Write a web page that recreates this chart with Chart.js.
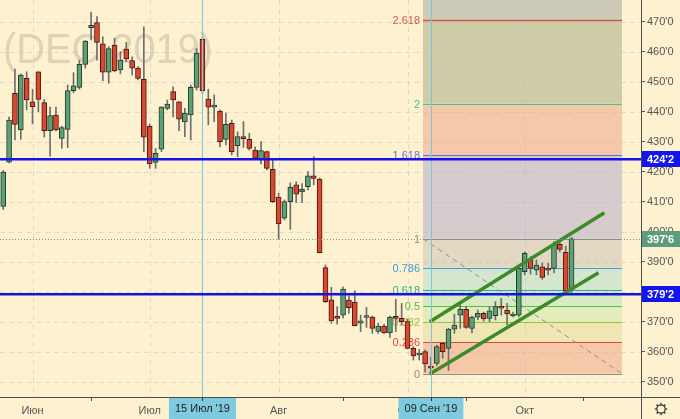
<!DOCTYPE html>
<html><head><meta charset="utf-8">
<script src="https://cdn.jsdelivr.net/npm/chart.js@4/dist/chart.umd.min.js"></script>
<style>
html,body{margin:0;padding:0;background:#fdf1cf;}
#wrap{width:680px;height:419px;position:relative;}
canvas{display:block;}
</style>
</head><body>
<div id="wrap"><canvas id="c"></canvas></div>
<script>
// ---- data ----
const dates = [
 '2019-05-24','2019-05-28','2019-05-29','2019-05-30','2019-05-31',
 '2019-06-03','2019-06-04','2019-06-05','2019-06-06','2019-06-07','2019-06-10','2019-06-11','2019-06-12','2019-06-13','2019-06-14',
 '2019-06-17','2019-06-18','2019-06-19','2019-06-20','2019-06-21','2019-06-24','2019-06-25','2019-06-26','2019-06-27','2019-06-28',
 '2019-07-01','2019-07-02','2019-07-03','2019-07-05','2019-07-08','2019-07-09','2019-07-10','2019-07-11','2019-07-12','2019-07-15',
 '2019-07-16','2019-07-17','2019-07-18','2019-07-19','2019-07-22','2019-07-23','2019-07-24','2019-07-25','2019-07-26','2019-07-29',
 '2019-07-30','2019-07-31',
 '2019-08-01','2019-08-02','2019-08-05','2019-08-06','2019-08-07','2019-08-08','2019-08-09','2019-08-12','2019-08-13','2019-08-14',
 '2019-08-15','2019-08-16','2019-08-19','2019-08-20','2019-08-21','2019-08-22','2019-08-23','2019-08-26','2019-08-27','2019-08-28',
 '2019-08-29','2019-08-30',
 '2019-09-03','2019-09-04','2019-09-05','2019-09-06','2019-09-09','2019-09-10','2019-09-11','2019-09-12','2019-09-13','2019-09-16',
 '2019-09-17','2019-09-18','2019-09-19','2019-09-20','2019-09-23','2019-09-24','2019-09-25','2019-09-26','2019-09-27','2019-09-30',
 '2019-10-01','2019-10-02','2019-10-03','2019-10-04','2019-10-07','2019-10-08','2019-10-09','2019-10-10','2019-10-11'
];
const opens = [408.5,423.3,446.2,434.0,451.2, 443.4,453.4,443.1,433.8,439.0, 431.2,434.2,447.1,448.2,455.9,
 468.1,469.8,462.7,453.3,462.3, 454.0,461.0,457.1,454.6,450.9, 435.3,423.2,427.6,441.2,446.8,
 443.4,436.7,439.0,448.2,464.2, 444.3,441.6,440.3,430.9,436.2, 428.8,431.6,430.9,427.3,424.0,
 426.8,420.9, 411.6,404.6,410.1,415.7,413.4, 415.1,418.7,417.6,388.1,377.4,
 371.8,372.3,377.3,376.6,369.6, 371.5,371.6,366.9,368.6,366.4, 371.8,371.2,
 370.1,361.2,359.0,360.1,354.9, 356.2,362.9,361.2,367.6,372.3, 374.2,367.9,371.6,372.9,371.2,
 372.1,375.3,374.0,372.0,372.3, 386.8,390.7,387.3,388.4,387.9, 387.9,395.9,393.2,380.9];
const highs = [420.5,438.3,454.3,452.7,453.4, 447.6,453.5,444.2,441.6,441.6, 435.3,449.0,453.1,457.3,463.8,
 473.2,471.8,465.1,461.8,464.6, 460.1,463.2,458.4,455.1,468.4, 436.0,427.9,441.8,444.0,448.4,
 443.5,441.2,449.0,461.2,464.9, 447.6,445.7,440.7,439.6,437.3, 433.4,436.8,432.9,428.4,430.1,
 427.0,424.0, 412.9,410.7,416.4,416.8,416.1, 420.1,425.1,418.0,389.0,381.6,
 375.1,381.6,378.7,380.4,372.3, 374.9,372.0,369.6,369.2,372.0, 377.6,376.2,
 371.0,361.8,360.9,360.7,358.2, 362.3,363.1,367.9,372.6,375.7, 375.2,372.0,374.0,373.3,375.1,
 376.8,377.9,376.2,373.3,388.2, 393.4,391.8,390.7,389.6,389.6, 396.8,396.8,395.3,398.2];
const lows = [407.5,423.0,430.7,430.9,440.7, 436.0,440.1,431.6,425.3,433.7, 427.9,428.1,446.4,447.6,454.6,
 464.0,457.3,450.4,449.6,453.4, 452.7,456.8,452.3,450.7,426.8, 421.2,421.2,426.8,440.7,438.4,
 433.8,431.8,430.7,447.3,446.2, 435.7,436.8,428.4,429.0,425.7, 425.1,428.2,427.3,424.0,422.7,
 420.7,409.8, 397.6,404.0,400.9,409.8,409.8, 414.0,415.7,393.0,376.5,369.6,
 369.3,371.3,372.9,368.7,366.8, 368.2,366.2,366.2,366.2,364.9, 366.8,369.0,
 361.0,357.3,357.3,353.4,352.75, 355.5,357.9,353.8,366.2,367.9, 367.9,366.4,370.7,370.3,370.0,
 370.7,372.3,369.0,371.7,371.7, 385.7,386.0,385.7,384.2,385.7, 386.4,393.4,380.1,379.3];
const closes = [420.0,437.3,435.9,452.3,444.0, 441.8,444.2,433.8,438.8,434.0, 434.8,447.1,448.7,455.9,463.6,
 468.9,463.2,453.3,461.1,453.7, 457.3,457.7,454.6,451.2,431.6, 422.7,426.2,441.6,442.6,444.0,
 437.6,439.6,448.2,459.6,447.1, 441.6,442.0,430.1,435.9,426.8, 431.8,431.1,427.9,424.6,427.1,
 421.2,410.1, 402.7,410.1,414.9,412.6,414.2, 418.7,417.9,393.1,376.8,370.4,
 371.2,381.0,374.8,368.8,370.4, 371.7,367.9,368.6,366.4,371.6, 371.2,370.1,
 361.2,358.7,359.2,356.0,354.6, 361.8,360.1,367.6,369.0,374.2, 368.2,371.6,372.9,371.0,373.7,
 375.1,374.6,372.7,372.3,387.9, 392.9,387.9,389.0,384.9,387.3, 396.0,394.2,380.4,397.75];

const priceTicks = [350,360,370,380,390,400,410,420,430,440,450,460,470];
const monthTickIdx = [5,25,47,69,89];
const monthLabels = ['Июн','Июл','Авг','Сен','Окт'];
const markerIdx = [34,73];
const markerLabels = ["15 Июл '19","09 Сен '19"];
const watermarkText = '(DEC 2019)';

const fibLevels = [0,0.236,0.382,0.5,0.618,0.786,1,1.618,2,2.618];
const fibLevelLabels = ['0','0.236','0.382','0.5','0.618','0.786','1','1.618','2','2.618'];
const fibTopLevel = 3.618;
const fibLow = 352.75, fibHigh = 397.75;
const fibStartIdx = 71.65, fibEndIdx = 105.6;

const hLines = [424.25, 379.25];
const lastPrice = 397.75;
const channelUpperX = [72.8, 102.6], channelUpperY = [370.1, 406.4];
const channelLowerX = [72.8, 101.6], channelLowerY = [352.7, 386.4];

// ---- styles ----
const BG = '#fdf1cf';
const fibLevelColors = ['#8d8d8d','#e0473f','#93c83a','#4cc24c','#23b096','#3d9fdc','#8d8d8d','#6e6ed0','#45c397','#cc5a4e'];
const fibZoneColors = ['#f5c9a7','#f0e6b3','#e3ecba','#d7eac1','#d5e6cf','#e3d9c3','#d6cbcd','#f4c8a8','#cfcca8','#cdcbb8'];
const UP = '#5f9f78', UP_B = '#1f3d2b', DN = '#d9482f', DN_B = '#4a1a10', WICK = '#6e6e6e';
const FONT = '"Liberation Sans", Arial, sans-serif';

function fmtPrice(p){ const w = Math.floor(p + 1e-9); const f = Math.round((p - w) * 8); return w + "'" + f; }

const idx = dates.map((d,i)=>i);
const bodyColors = idx.map(i => closes[i] >= opens[i] ? UP : DN);
const bodyBorders = idx.map(i => closes[i] >= opens[i] ? UP_B : DN_B);

function noPad(s){ s.paddingTop = 0; s.paddingBottom = 0; s.paddingLeft = 0; s.paddingRight = 0; }

const deco = {
  id: 'deco',
  beforeDraw(chart){
    const {ctx, chartArea:a, scales:{x, y}} = chart;
    ctx.save();
    ctx.fillStyle = BG; ctx.fillRect(0,0,chart.width,chart.height);
    ctx.beginPath(); ctx.rect(a.left,a.top,a.right-a.left,a.bottom-a.top); ctx.clip();
    // watermark
    ctx.fillStyle = '#dcd3b9'; ctx.font = '43px ' + FONT; ctx.textAlign='left'; ctx.textBaseline='alphabetic';
    ctx.fillText(watermarkText, a.left + 3, a.top + 63, 210);
    // fib zones
    const fx0 = x.getPixelForValue(fibStartIdx), fx1 = x.getPixelForValue(fibEndIdx);
    const R = fibHigh - fibLow;
    for (let i = 0; i < fibZoneColors.length; i++){
      const l0 = fibLevels[i], l1 = i + 1 < fibLevels.length ? fibLevels[i+1] : fibTopLevel;
      const y0 = y.getPixelForValue(fibLow + l0*R), y1 = y.getPixelForValue(fibLow + l1*R);
      ctx.fillStyle = fibZoneColors[i];
      ctx.fillRect(fx0, y1, fx1 - fx0, y0 - y1);
    }
    // grid
    ctx.setLineDash([5,4]); ctx.lineWidth = 1; ctx.strokeStyle = 'rgba(175,182,196,0.38)';
    priceTicks.forEach(p => { const yy = Math.round(y.getPixelForValue(p)) + 0.5;
      ctx.beginPath(); ctx.moveTo(a.left, yy); ctx.lineTo(a.right, yy); ctx.stroke(); });
    monthTickIdx.forEach(v => { const xx = Math.round(x.getPixelForValue(v)) + 0.5;
      ctx.beginPath(); ctx.moveTo(xx, a.top); ctx.lineTo(xx, a.bottom); ctx.stroke(); });
    ctx.restore();
  },
  beforeDatasetsDraw(chart){
    const {ctx, chartArea:a, scales:{x, y}} = chart;
    ctx.save();
    const fx0 = x.getPixelForValue(fibStartIdx), fx1 = x.getPixelForValue(fibEndIdx);
    const R = fibHigh - fibLow;
    ctx.font = '11px ' + FONT; ctx.textAlign = 'right'; ctx.textBaseline = 'middle';
    fibLevels.forEach((l,i) => {
      const yy = Math.round(y.getPixelForValue(fibLow + l*R)) + 0.5;
      ctx.strokeStyle = fibLevelColors[i]; ctx.lineWidth = (l === 2.618) ? 1.6 : 1;
      ctx.beginPath(); ctx.moveTo(fx0, yy); ctx.lineTo(fx1, yy); ctx.stroke();
      ctx.fillStyle = fibLevelColors[i];
      ctx.fillText(fibLevelLabels[i], fx0 - 3, yy);
    });
    ctx.setLineDash([5,4]); ctx.strokeStyle = '#8f8f8f'; ctx.lineWidth = 1;
    ctx.beginPath(); ctx.moveTo(fx0, y.getPixelForValue(fibHigh)); ctx.lineTo(fx1, y.getPixelForValue(fibLow)); ctx.stroke();
    ctx.restore();
  },
  afterDatasetsDraw(chart){
    const {ctx, chartArea:a, scales:{x, y}} = chart;
    ctx.save();
    ctx.strokeStyle = '#78c6e2'; ctx.lineWidth = 1;
    markerIdx.forEach(v => { const xx = Math.round(x.getPixelForValue(v)) + 0.5;
      ctx.beginPath(); ctx.moveTo(xx, a.top); ctx.lineTo(xx, a.bottom); ctx.stroke(); });
    ctx.setLineDash([1,2]); ctx.strokeStyle = '#6c9f7e';
    const ly = Math.round(y.getPixelForValue(lastPrice)) + 0.5;
    ctx.beginPath(); ctx.moveTo(a.left, ly); ctx.lineTo(a.right, ly); ctx.stroke();
    ctx.setLineDash([]);
    ctx.strokeStyle = '#1414e6'; ctx.lineWidth = 2.5;
    hLines.forEach(p => { const yy = y.getPixelForValue(p);
      ctx.beginPath(); ctx.moveTo(a.left, yy); ctx.lineTo(a.right + 2, yy); ctx.stroke(); });
    ctx.restore();
  },
  afterDraw(chart){
    const {ctx, chartArea:a, scales:{x, y}} = chart;
    ctx.save();
    ctx.strokeStyle = '#4d4d4d'; ctx.lineWidth = 1;
    ctx.beginPath(); ctx.moveTo(0, a.bottom + 0.5); ctx.lineTo(chart.width, a.bottom + 0.5); ctx.stroke();
    ctx.beginPath(); ctx.moveTo(a.right + 0.5, 0); ctx.lineTo(a.right + 0.5, chart.height); ctx.stroke();
    ctx.font = 'bold 11px ' + FONT; ctx.textBaseline = 'middle'; ctx.textAlign = 'left';
    const boxes = hLines.map(p => ({p, c:'#1414ee'})).concat([{p:lastPrice, c:'#5e9c7d'}]);
    boxes.forEach(b => {
      const yy = Math.round(y.getPixelForValue(b.p));
      ctx.fillStyle = b.c; ctx.fillRect(a.right + 1, yy - 8, chart.width - a.right - 1, 16);
      ctx.fillStyle = '#ffffff'; ctx.fillText(fmtPrice(b.p), a.right + 6, yy + 0.5);
    });
    ctx.font = '11px ' + FONT; ctx.textAlign = 'center';
    markerIdx.forEach((v,i) => {
      const xx = x.getPixelForValue(v);
      const w = ctx.measureText(markerLabels[i]).width + 12;
      ctx.fillStyle = '#7ecade'; ctx.fillRect(xx - w/2, a.bottom + 1, w, chart.height - a.bottom - 1);
      ctx.strokeStyle = '#333'; ctx.beginPath(); ctx.moveTo(Math.round(xx)+0.5, a.bottom+1); ctx.lineTo(Math.round(xx)+0.5, a.bottom+4); ctx.stroke();
      ctx.fillStyle = '#1e1e1e'; ctx.fillText(markerLabels[i], xx, a.bottom + 12);
    });
    const gx = (a.right + chart.width)/2 + 0.5, gy = (a.bottom + chart.height)/2 + 1;
    ctx.strokeStyle = '#333'; ctx.lineWidth = 1.2;
    ctx.beginPath(); ctx.arc(gx, gy, 4.2, 0, Math.PI*2); ctx.stroke();
    for (let k = 0; k < 8; k++){ const t = k*Math.PI/4;
      ctx.beginPath(); ctx.moveTo(gx + Math.cos(t)*4.2, gy + Math.sin(t)*4.2); ctx.lineTo(gx + Math.cos(t)*6.3, gy + Math.sin(t)*6.3); ctx.stroke(); }
    ctx.restore();
  }
};

new Chart(document.getElementById('c'), {
  type: 'bar',
  data: {
    datasets: [
      { type:'line', data: channelUpperX.map((v,i)=>({x:v, y:channelUpperY[i]})), borderColor:'#3c8a28', borderWidth:3.5, pointRadius:0, order:0 },
      { type:'line', data: channelLowerX.map((v,i)=>({x:v, y:channelLowerY[i]})), borderColor:'#3c8a28', borderWidth:3.5, pointRadius:0, order:0 },
      { label:'body', data: idx.map(i => ({x:i, y:[opens[i], closes[i]]})), backgroundColor: bodyColors, borderColor: bodyBorders,
        borderWidth:1, borderSkipped:false, barThickness:5, grouped:false, minBarLength:2, order:1 },
      { label:'wick', data: idx.map(i => ({x:i, y:[lows[i], highs[i]]})), backgroundColor: WICK, borderWidth:0,
        barThickness:1, grouped:false, order:2 }
    ]
  },
  options: {
    responsive: true, maintainAspectRatio: false, animation: false, devicePixelRatio: 1,
    layout: { padding: 0 },
    plugins: { legend: { display:false }, tooltip: { enabled:false } },
    scales: {
      x: { type:'linear', position:'bottom', min:-0.55, max:108.85, offset:false,
        afterBuildTicks: s => { s.ticks = monthTickIdx.map(v => ({value:v})); },
        afterFit: s => { s.height = 22; noPad(s); },
        ticks: { callback: (v,i) => monthLabels[i], autoSkip:false, maxRotation:0, color:'#555', font:{size:11, family:FONT}, padding:3 },
        grid: { drawOnChartArea:false, tickLength:4, color:'#555' },
        border: { display:false } },
      y: { type:'linear', position:'right', min:345, max:477.3333,
        afterBuildTicks: s => { s.ticks = priceTicks.map(v => ({value:v})); },
        afterFit: s => { s.width = 39; noPad(s); },
        ticks: { callback: v => fmtPrice(v), color:'#555', font:{size:11, family:FONT}, padding:2 },
        grid: { drawOnChartArea:false, tickLength:4, color:'#555' },
        border: { display:false } }
    }
  },
  plugins: [deco]
});
</script>
</body></html>
